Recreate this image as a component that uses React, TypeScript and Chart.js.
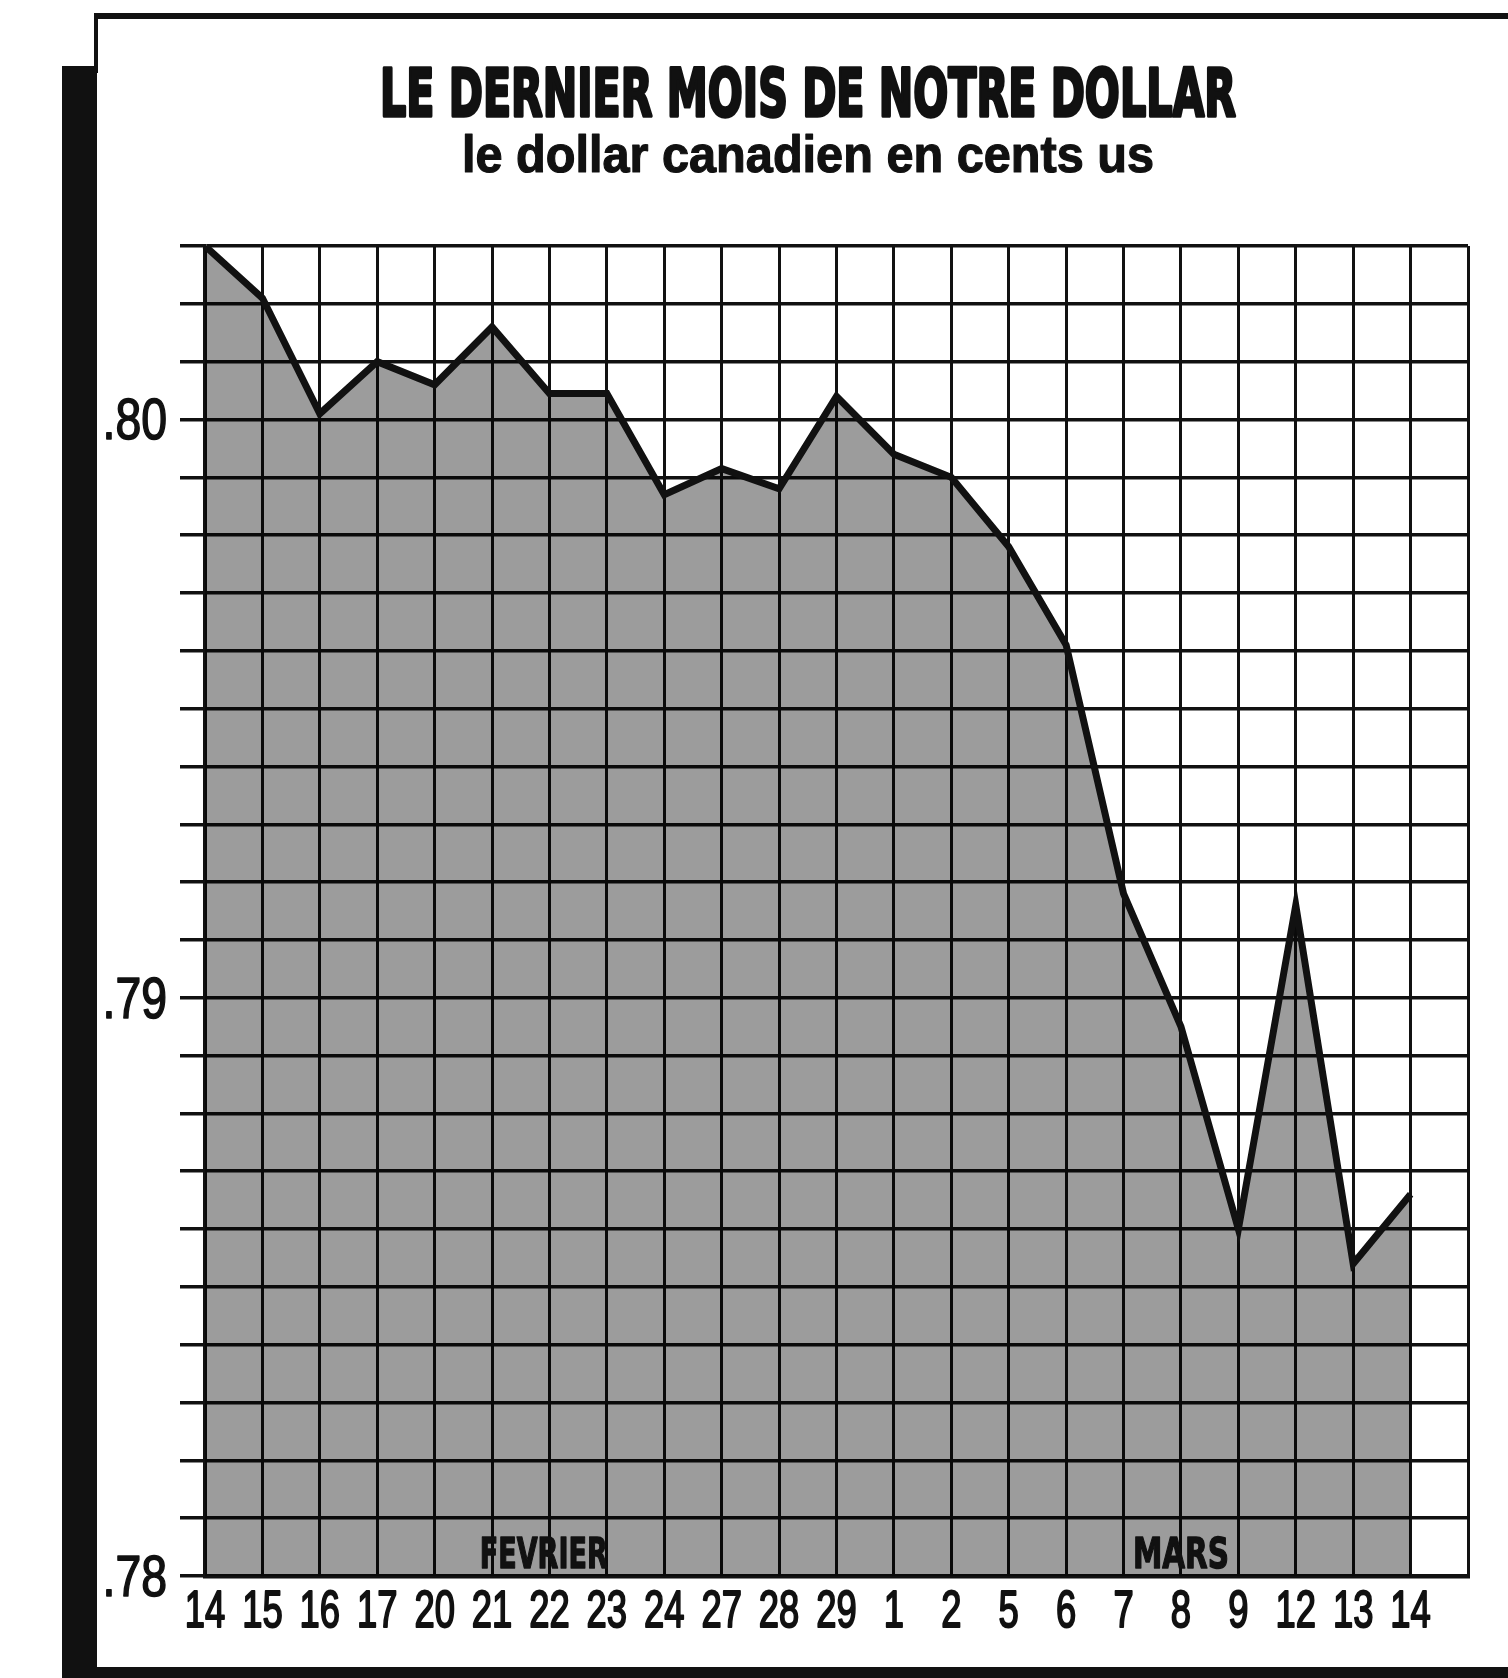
import React, { useEffect, useRef } from "react";
import { Chart, registerables } from "chart.js";

Chart.register(...registerables);

// ---- data ----
const dayLabels = ["14", "15", "16", "17", "20", "21", "22", "23", "24", "27", "28", "29", "1", "2", "5", "6", "7", "8", "9", "12", "13", "14"];
const dollarValues = [0.803, 0.8021, 0.8001, 0.801, 0.8006, 0.8016, 0.80045, 0.80045, 0.7987, 0.79915, 0.7988, 0.8004, 0.7994, 0.799, 0.7978, 0.7961, 0.7918, 0.7895, 0.786, 0.7916, 0.7854, 0.7866];
const yLabelValues = [0.78, 0.79, 0.8];
const yLabelTexts = [".78", ".79", ".80"];
const yMin = 0.78;
const yMax = 0.803;
const yStep = 0.001;
const monthNames = ["FEVRIER", "MARS"];
const monthAnchors = [5.9, 17];
const titleText = "LE DERNIER MOIS DE NOTRE DOLLAR";
const subtitleText = "le dollar canadien en cents us";

const INK = "#111";

function fitText(ctx: CanvasRenderingContext2D, text: string, cx: number, baseline: number, width: number, font: string, thicken = 0) {
  ctx.save();
  ctx.font = font;
  const w = ctx.measureText(text).width;
  ctx.translate(cx, baseline);
  ctx.scale(width / w, 1);
  ctx.textAlign = "center";
  ctx.textBaseline = "alphabetic";
  ctx.fillStyle = INK;
  ctx.fillText(text, 0, 0);
  if (thicken > 0) {
    ctx.lineWidth = thicken;
    ctx.strokeStyle = INK;
    ctx.lineJoin = "round";
    ctx.strokeText(text, 0, 0);
  }
  ctx.restore();
}

function squeezedText(ctx: CanvasRenderingContext2D, text: string, x: number, baseline: number, sx: number, font: string, align: CanvasTextAlign, thicken = 0) {
  ctx.save();
  ctx.font = font;
  ctx.translate(x, baseline);
  ctx.scale(sx, 1);
  ctx.textAlign = align;
  ctx.textBaseline = "alphabetic";
  ctx.fillStyle = INK;
  ctx.fillText(text, 0, 0);
  if (thicken > 0) {
    ctx.lineWidth = thicken;
    ctx.strokeStyle = INK;
    ctx.lineJoin = "round";
    ctx.strokeText(text, 0, 0);
  }
  ctx.restore();
}

const framePlugin = {
  id: "newspaperFrame",
  beforeDraw(chart: any) {
    const ctx = chart.ctx as CanvasRenderingContext2D;
    const W = chart.width;
    const H = chart.height;
    ctx.save();
    ctx.fillStyle = "#ffffff";
    ctx.fillRect(0, 0, W, H);
    ctx.fillStyle = INK;
    ctx.fillRect(94, 13, W - 94, 6);
    ctx.fillRect(94, 13, 4, 60);
    ctx.fillRect(62, 66, 35, H - 66);
    ctx.fillRect(62, 1667, W - 62, 11);
    ctx.restore();

    fitText(ctx, titleText, 808, 116, 856, "bold 66px 'DejaVu Sans', sans-serif", 3.5);
    fitText(ctx, subtitleText, 808, 172, 692, "bold 52px 'Liberation Sans', Arial, sans-serif", 1.2);
  },
  afterDatasetsDraw(chart: any) {
    const ctx = chart.ctx as CanvasRenderingContext2D;
    const xs = chart.scales.x;
    const bottom = chart.chartArea.bottom;
    const widths = [128, 96];
    monthNames.forEach((m, i) => {
      const cx = xs.getPixelForValue(monthAnchors[i]);
      fitText(ctx, m, cx, bottom - 8, widths[i], "bold 42px 'DejaVu Sans', sans-serif", 1.5);
    });
  },
  afterDraw(chart: any) {
    const ctx = chart.ctx as CanvasRenderingContext2D;
    const xs = chart.scales.x;
    const ys = chart.scales.y;
    const area = chart.chartArea;
    // x tick labels (from the category scale's ticks)
    xs.ticks.forEach((t: any, i: number) => {
      const label = xs.getLabelForValue(t.value);
      if (!label) return;
      const px = xs.getPixelForTick(i);
      squeezedText(ctx, String(label), px, area.bottom + 51, 0.7, "52px 'Liberation Sans', Arial, sans-serif", "center", 2);
    });
    // y tick labels
    ys.ticks.forEach((t: any) => {
      const idx = yLabelValues.findIndex((v) => Math.abs(v - t.value) < 1e-7);
      if (idx < 0) return;
      const py = ys.getPixelForValue(t.value);
      squeezedText(ctx, yLabelTexts[idx], area.left - 38, py + 20, 0.8, "58px 'Liberation Sans', Arial, sans-serif", "right", 1.6);
    });
  },
};

export default function App() {
  const canvasRef = useRef<HTMLCanvasElement | null>(null);

  useEffect(() => {
    const canvas = canvasRef.current;
    if (!canvas) return;
    const chart = new Chart(canvas, {
      type: "line",
      data: {
        labels: [...dayLabels, ""],
        datasets: [
          {
            data: dollarValues,
            borderColor: INK,
            borderWidth: 7,
            backgroundColor: "rgba(0,0,0,0.39)",
            fill: "start",
            pointRadius: 0,
            pointHoverRadius: 0,
            tension: 0,
            borderJoinStyle: "miter",
            borderCapStyle: "butt",
          },
        ],
      },
      options: {
        responsive: false,
        animation: false,
        devicePixelRatio: 1,
        layout: { padding: { top: 246, right: 40, left: 0, bottom: 0 } },
        plugins: {
          legend: { display: false },
          tooltip: { enabled: false },
          title: { display: false },
        },
        scales: {
          x: {
            offset: false,
            grid: { color: INK, lineWidth: 3, drawTicks: false },
            border: { color: INK, width: 4.5 },
            ticks: { display: false, autoSkip: false, maxRotation: 0, minRotation: 0 },
            afterFit: (s: any) => {
              s.height = 102;
            },
          },
          y: {
            min: yMin,
            max: yMax,
            grid: { color: INK, lineWidth: 3.5, drawTicks: true, tickLength: 25, tickWidth: 3.5, tickColor: INK },
            border: { color: INK, width: 3.5 },
            ticks: { display: false, stepSize: yStep, autoSkip: false },
            afterBuildTicks: (s: any) => {
              const n = Math.round((yMax - yMin) / yStep);
              const ticks = [];
              for (let i = 0; i <= n; i++) ticks.push({ value: Math.round((yMin + i * yStep) * 1e6) / 1e6 });
              s.ticks = ticks;
            },
            afterFit: (s: any) => {
              s.width = 205;
            },
          },
        },
      },
      plugins: [framePlugin],
    } as any);
    return () => chart.destroy();
  }, []);

  return (
    <div style={{ position: "absolute", left: 0, top: 0, width: 1508, height: 1678, background: "#fff" }}>
      <canvas ref={canvasRef} width={1508} height={1678} style={{ display: "block" }} />
    </div>
  );
}
